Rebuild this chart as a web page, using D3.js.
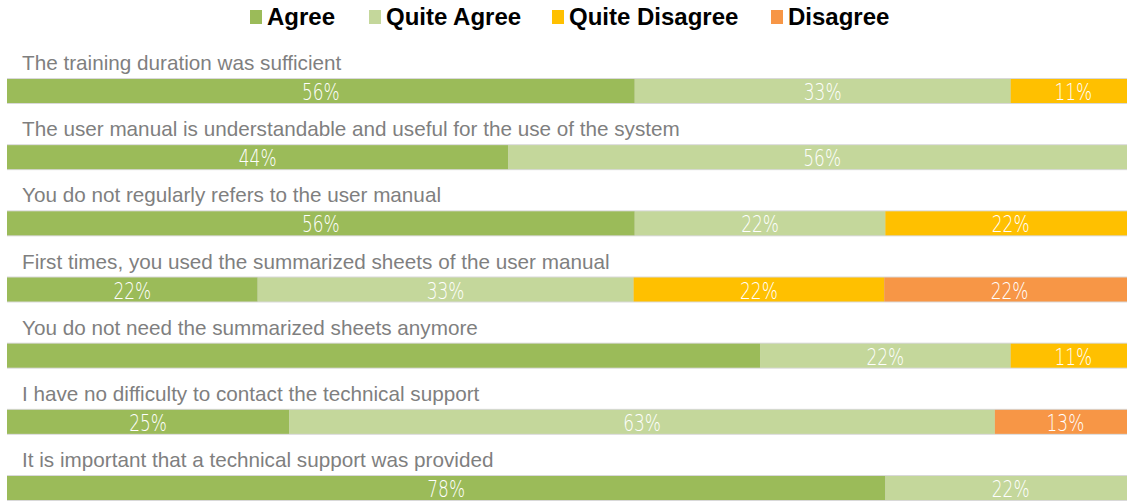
<!DOCTYPE html>
<html>
<head>
<meta charset="utf-8">
<script src="https://cdn.jsdelivr.net/npm/d3@7"></script>
<style>
  body { margin: 0; background: #fff; overflow: hidden; }
</style>
</head>
<body>
<div id="container"></div>
<script>
const questions = [
  "The training duration was sufficient",
  "The user manual is understandable and useful for the use of the system",
  "You do not regularly refers to the user manual",
  "First times, you used the summarized sheets of the user manual",
  "You do not need the summarized sheets anymore",
  "I have no difficulty to contact the technical support",
  "It is important that a technical support was provided"
];
const answers = ["Agree", "Quite Agree", "Quite Disagree", "Disagree"];
const colors = ["#9bbb59", "#c4d79b", "#ffc000", "#f79646"];

// percent per answer, one array per answer in question order
const agree         = [55.6, 44.4, 55.6, 22.2, 66.7, 25.0, 77.8];
const quiteAgree    = [33.3, 55.6, 22.2, 33.3, 22.2, 62.5, 22.2];
const quiteDisagree = [11.1, 0,    22.2, 22.2, 11.1, 0,    0];
const disagree      = [0,    0,    0,    22.2, 0,    12.5, 0];
// the agree label of question 5 is not shown on the original
const hiddenLabels = ["4-0"];

const width = 1127;
const height = 503;

const rows = questions.map((q, i) => ({
  q: q,
  "Agree": agree[i],
  "Quite Agree": quiteAgree[i],
  "Quite Disagree": quiteDisagree[i],
  "Disagree": disagree[i]
}));

const stacked = d3.stack().keys(answers)(rows);

// the bars run a little past the right edge of the picture
const x = d3.scaleLinear().domain([0, 100]).range([7, 1136]);
const y = d3.scaleBand()
  .domain(questions)
  .range([79, 500])
  .paddingInner(0.6373)
  .paddingOuter(0);

const svg = d3.select("#container")
  .append("svg")
  .attr("width", width)
  .attr("height", height)
  .style("font-family", "'Liberation Sans', Arial, sans-serif");

// legend
const legendX = [267, 386, 569, 788];
const legend = svg.append("g");
answers.forEach((a, i) => {
  legend.append("rect")
    .attr("x", legendX[i] - 17)
    .attr("y", 10)
    .attr("width", 12)
    .attr("height", 14)
    .attr("fill", colors[i]);
  legend.append("text")
    .attr("x", legendX[i])
    .attr("y", 25)
    .attr("font-size", "24px")
    .attr("font-weight", "bold")
    .attr("fill", "#000")
    .text(a);
});

// question labels
svg.selectAll("text.q")
  .data(questions)
  .enter()
  .append("text")
  .attr("class", "q")
  .attr("x", 22)
  .attr("y", d => y(d) - 9)
  .attr("font-size", "20.7px")
  .attr("fill", "#7f7f7f")
  .text(d => d);

// light frame behind each bar
svg.selectAll("rect.frame")
  .data(questions)
  .enter()
  .append("rect")
  .attr("class", "frame")
  .attr("x", x(0))
  .attr("y", d => y(d) - 1)
  .attr("width", x(100) - x(0))
  .attr("height", y.bandwidth() + 2)
  .attr("fill", "#d9d9d9");

const series = svg.selectAll("g.series")
  .data(stacked)
  .enter()
  .append("g")
  .attr("class", "series")
  .attr("fill", (d, i) => colors[i]);

series.selectAll("rect")
  .data(d => d)
  .enter()
  .append("rect")
  .attr("x", d => x(d[0]))
  .attr("y", d => y(d.data.q))
  .attr("width", d => x(d[1]) - x(d[0]))
  .attr("height", y.bandwidth());

series.each(function(s, si) {
  d3.select(this).selectAll("text")
    .data(s.filter((d, qi) => d[1] - d[0] > 0 && !hiddenLabels.includes(qi + "-" + si)))
    .enter()
    .append("text")
    .attr("transform", d => `translate(${(x(d[0]) + x(d[1])) / 2},${y(d.data.q) + 21}) scale(0.74,1)`)
    .attr("text-anchor", "middle")
    .attr("font-family", "'DejaVu Sans', sans-serif")
    .attr("font-weight", 200)
    .attr("font-size", "23px")
    .attr("fill", "#fff")
    .text(d => Math.round(d[1] - d[0]) + "%");
});
</script>
</body>
</html>
